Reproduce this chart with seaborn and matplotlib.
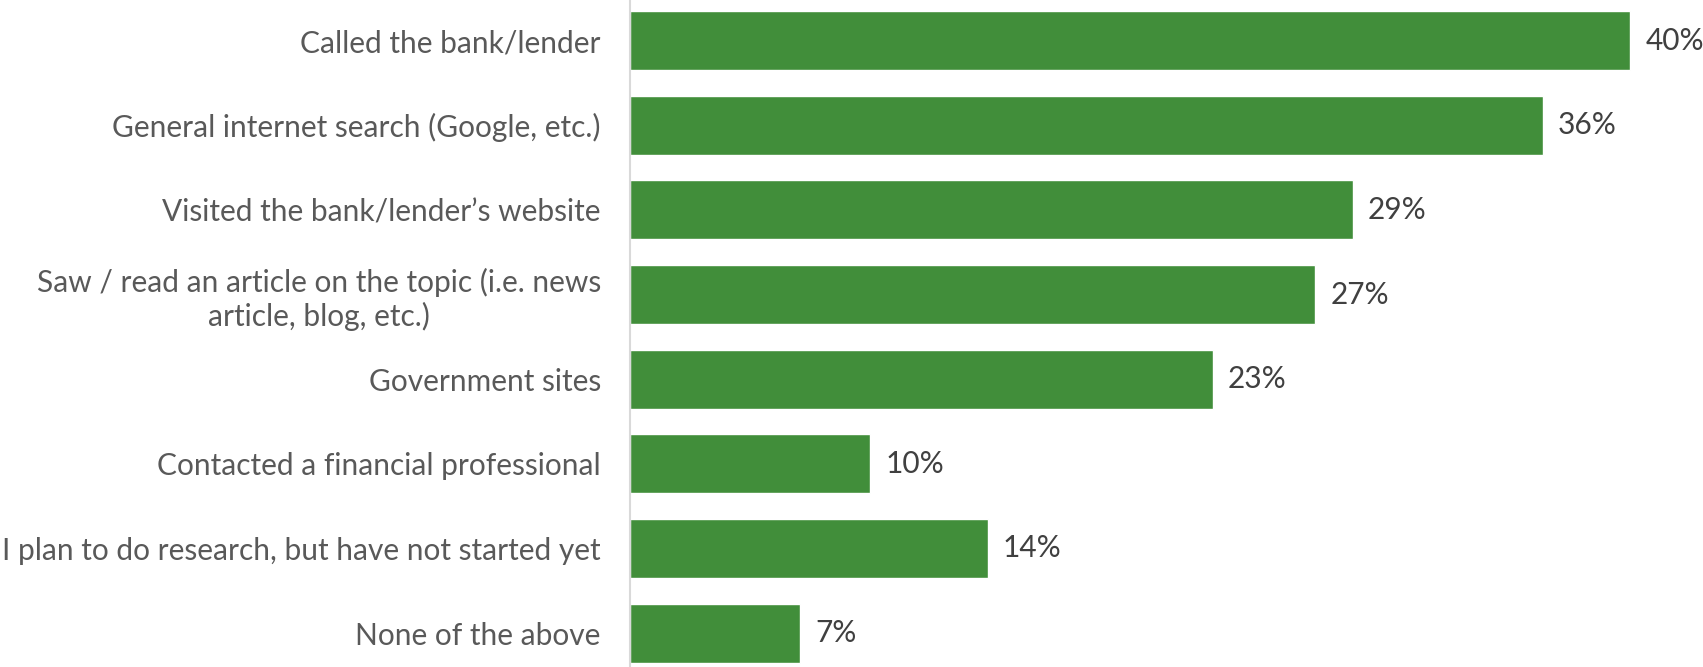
import matplotlib
matplotlib.use("Agg")
import matplotlib.pyplot as plt
import seaborn as sns
import pandas as pd

categories = [
    "Called the bank/lender",
    "General internet search (Google, etc.)",
    "Visited the bank/lender\u2019s website",
    "Saw / read an article on the topic (i.e. news\narticle, blog, etc.)",
    "Government sites",
    "Contacted a financial professional",
    "I plan to do research, but have not started yet",
    "None of the above",
]
# bar lengths (printed labels are rounded)
values = [40.0, 36.5, 28.9, 27.4, 23.3, 9.6, 14.3, 6.8]
value_labels = ["40%", "36%", "29%", "27%", "23%", "10%", "14%", "7%"]

sns.set_theme(style="white")
plt.rcParams["font.family"] = ["Lato", "DejaVu Sans"]

df = pd.DataFrame({"category": categories, "value": values})

fig = plt.figure(figsize=(17.03, 6.67), dpi=100)
ax = fig.add_axes([630 / 1703, 0, 1050 / 1703, 1])
sns.barplot(data=df, x="value", y="category", orient="h", color="#418E3A",
            width=0.70, saturation=1, ax=ax)

ax.set_xlim(0, 42)
ax.set_ylim(7.40, -0.479)
ax.set_xlabel("")
ax.set_ylabel("")
ax.set_xticks([])
for s in ["top", "right", "bottom"]:
    ax.spines[s].set_visible(False)
ax.spines["left"].set_color("#d9d9d9")
ax.spines["left"].set_linewidth(1.5)
ax.tick_params(axis="y", length=0, pad=21)
for lbl in ax.get_yticklabels():
    lbl.set_fontsize(21.5)
    lbl.set_color("#595959")
    lbl.set_multialignment("center")

for i, (v, t) in enumerate(zip(values, value_labels)):
    ax.annotate(t, xy=(v, i), xytext=(11, 0), textcoords="offset points",
                ha="left", va="center", fontsize=21.5, color="#404040")

fig.savefig("out.png", dpi=100)
